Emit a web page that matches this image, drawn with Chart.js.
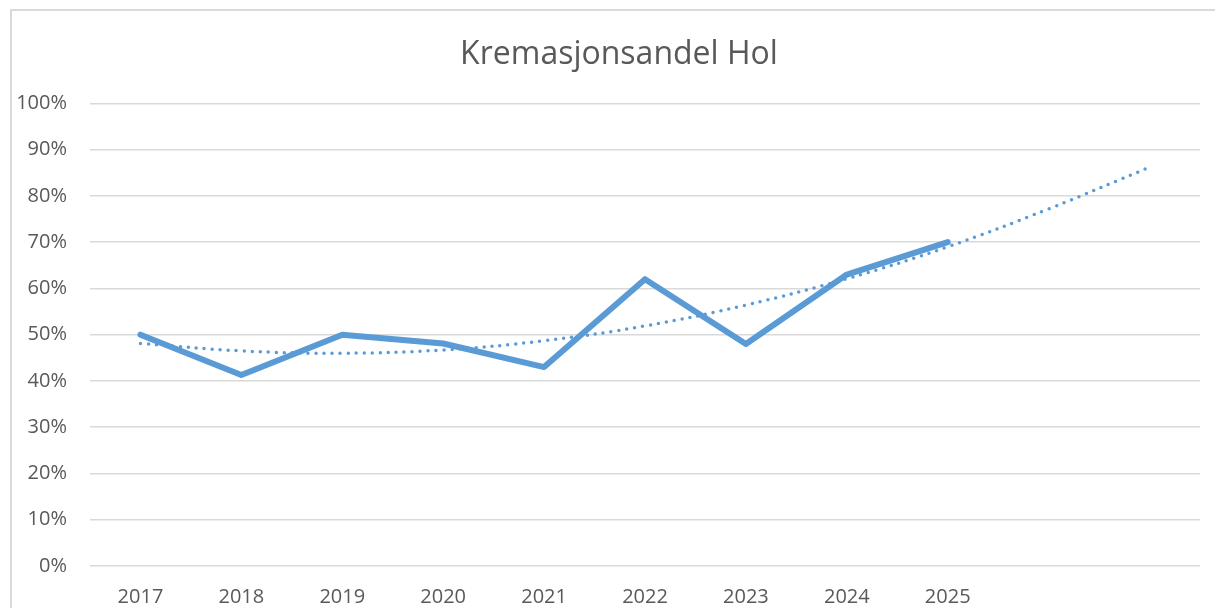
<!DOCTYPE html>
<html>
<head>
<meta charset="utf-8">
<script src="https://cdn.jsdelivr.net/npm/chart.js@4/dist/chart.umd.min.js"></script>
<style>
  html, body { margin: 0; padding: 0; background: #fff; overflow: hidden; }
  #frame {
    position: absolute; left: 10px; top: 9px; width: 1230px; height: 700px;
    border: 2px solid #d9d9d9; box-sizing: border-box;
  }
  #chart { position: absolute; left: 0; top: 0; }
</style>
</head>
<body>
<div id="frame"></div>
<canvas id="chart" width="1228" height="608"></canvas>
<script>
// years on the x axis (two extra slots for the trendline forecast)
const years = ['2017', '2018', '2019', '2020', '2021', '2022', '2023', '2024', '2025', '', ''];
// cremation share, percent
const shareValues = [50, 41.3, 50, 48.1, 43, 62, 48, 63, 70, null, null];
// dotted trendline, percent
const trendValues = [48.1, 46.5, 46, 46.7, 48.7, 51.9, 56.4, 62.1, 69, 77.2, 86.2];
const yTicks = [0, 10, 20, 30, 40, 50, 60, 70, 80, 90, 100];

const blue = '#5b9bd5';
const grey = '#595959';

const ctx = document.getElementById('chart').getContext('2d');
new Chart(ctx, {
  type: 'line',
  data: {
    labels: years,
    datasets: [
      {
        label: 'Trend',
        data: trendValues,
        borderColor: blue,
        borderWidth: 3.5,
        borderDash: [0, 8],
        borderCapStyle: 'round',
        tension: 0.4,
        pointRadius: 0,
        fill: false,
      },
      {
        label: 'Kremasjonsandel',
        data: shareValues,
        borderColor: blue,
        borderWidth: 6,
        borderCapStyle: 'round',
        borderJoinStyle: 'round',
        tension: 0,
        pointRadius: 0,
        fill: false,
      }
    ]
  },
  options: {
    responsive: false,
    animation: false,
    layout: { padding: { left: 10, right: 0, top: 0, bottom: 0 } },
    plugins: {
      legend: { display: false },
      tooltip: { enabled: false },
      title: {
        display: true,
        text: 'Kremasjonsandel Hol',
        color: grey,
        font: { family: 'Open Sans', size: 32, weight: 'normal', lineHeight: 1.2 },
        padding: { top: 36, bottom: 29 }
      }
    },
    scales: {
      x: {
        offset: true,
        grid: { display: false },
        border: { display: false },
        ticks: {
          color: grey,
          font: { family: 'Open Sans', size: 20 },
          padding: 11,
          maxRotation: 0,
          autoSkip: false
        },
        afterFit: (scale) => { scale.height = 42; }
      },
      y: {
        min: 0,
        max: 100,
        afterBuildTicks: (scale) => { scale.ticks = yTicks.map(v => ({ value: v })); },
        grid: { color: '#d9d9d9', lineWidth: 1.6, drawTicks: false },
        border: { display: false },
        ticks: {
          color: grey,
          font: { family: 'Open Sans', size: 20 },
          padding: 23,
          callback: (v) => v + '%'
        },
        afterFit: (scale) => { scale.width = 80; }
      },
      // empty right margin so the plot ends at x=1200 while the title stays centred on the frame
      yRight: {
        position: 'right',
        display: true,
        grid: { display: false },
        border: { display: false },
        ticks: { display: false },
        afterFit: (scale) => { scale.width = 28; }
      }
    }
  }
});
</script>
</body>
</html>
